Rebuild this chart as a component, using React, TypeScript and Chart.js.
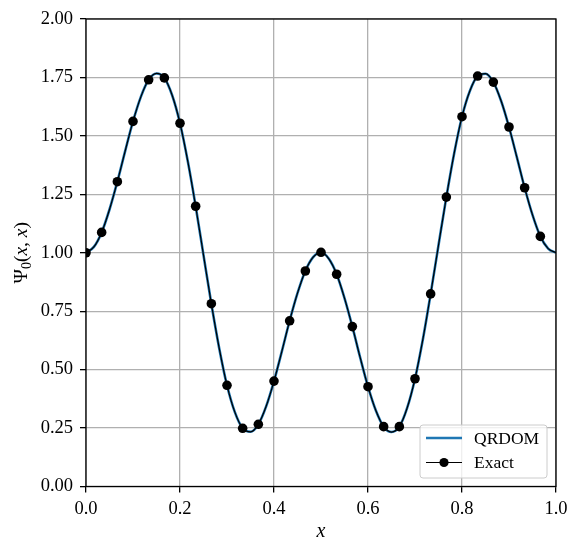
import { useEffect, useRef } from 'react';
import { Chart, registerables } from 'chart.js';

Chart.register(...registerables);

const xGrid = [
  0, 0.0167, 0.0333, 0.05, 0.0667, 0.0833, 0.1, 0.1167, 0.1333, 0.15,
  0.1667, 0.1833, 0.2, 0.2167, 0.2333, 0.25, 0.2667, 0.2833, 0.3, 0.3167,
  0.3333, 0.35, 0.3667, 0.3833, 0.4, 0.4167, 0.4333, 0.45, 0.4667, 0.4833,
  0.5, 0.5167, 0.5333, 0.55, 0.5667, 0.5833, 0.6, 0.6167, 0.6333, 0.65,
  0.6667, 0.6833, 0.7, 0.7167, 0.7333, 0.75, 0.7667, 0.7833, 0.8, 0.8167,
  0.8333, 0.85, 0.8667, 0.8833, 0.9, 0.9167, 0.9333, 0.95, 0.9667, 0.9833,
  1.0,
];

const qrdomValues = [
  1.0, 1.025, 1.087, 1.185, 1.304, 1.435, 1.562, 1.667, 1.74, 1.767,
  1.748, 1.674, 1.554, 1.39, 1.199, 0.99, 0.782, 0.593, 0.433, 0.318,
  0.249, 0.234, 0.266, 0.343, 0.451, 0.578, 0.709, 0.827, 0.922, 0.981,
  1.002, 0.974, 0.908, 0.806, 0.684, 0.552, 0.427, 0.325, 0.256, 0.233,
  0.256, 0.336, 0.461, 0.629, 0.824, 1.032, 1.238, 1.425, 1.582, 1.692,
  1.756, 1.766, 1.73, 1.649, 1.538, 1.409, 1.278, 1.162, 1.07, 1.018,
  1.0,
];

const exactValues = [
  1.0, 1.025, 1.087, 1.185, 1.304, 1.435, 1.562, 1.667, 1.74, 1.767,
  1.748, 1.674, 1.554, 1.39, 1.199, 0.99, 0.782, 0.593, 0.433, 0.318,
  0.249, 0.234, 0.266, 0.343, 0.451, 0.578, 0.709, 0.827, 0.922, 0.981,
  1.002, 0.974, 0.908, 0.806, 0.684, 0.552, 0.427, 0.325, 0.256, 0.233,
  0.256, 0.336, 0.461, 0.629, 0.824, 1.032, 1.238, 1.425, 1.582, 1.692,
  1.756, 1.766, 1.73, 1.649, 1.538, 1.409, 1.278, 1.162, 1.07, 1.018,
  1.0,
];

const xTicks = [0, 0.2, 0.4, 0.6, 0.8, 1.0];
const yTicks = [0, 0.25, 0.5, 0.75, 1.0, 1.25, 1.5, 1.75, 2.0];

const seriesLabels = ['QRDOM', 'Exact'];
const xTitle = 'x';

const FONT = "'Liberation Serif', 'Times New Roman', serif";
const BLUE = '#1f77b4';

const frameAndLegend = {
  id: 'frameAndLegend',
  afterDatasetsDraw(chart: any) {
    const { ctx, chartArea } = chart;
    const { left, right, top, bottom } = chartArea;
    ctx.save();
    // spines
    ctx.strokeStyle = '#000';
    ctx.lineWidth = 1.3;
    ctx.strokeRect(left, top, right - left, bottom - top);

    // legend
    const w = 127;
    const h = 53;
    const bx = right - 9 - w;
    const by = bottom - 8.5 - h;
    const r = 3;
    ctx.beginPath();
    ctx.moveTo(bx + r, by);
    ctx.lineTo(bx + w - r, by);
    ctx.arcTo(bx + w, by, bx + w, by + r, r);
    ctx.lineTo(bx + w, by + h - r);
    ctx.arcTo(bx + w, by + h, bx + w - r, by + h, r);
    ctx.lineTo(bx + r, by + h);
    ctx.arcTo(bx, by + h, bx, by + h - r, r);
    ctx.lineTo(bx, by + r);
    ctx.arcTo(bx, by, bx + r, by, r);
    ctx.closePath();
    ctx.fillStyle = 'rgba(255,255,255,0.8)';
    ctx.fill();
    ctx.strokeStyle = '#cccccc';
    ctx.lineWidth = 1;
    ctx.stroke();

    const ds = chart.data.datasets;
    const y1 = by + 13;
    const y2 = by + 37.5;
    ctx.lineCap = 'butt';
    ctx.strokeStyle = BLUE;
    ctx.lineWidth = 2.6;
    ctx.beginPath();
    ctx.moveTo(bx + 6, y1);
    ctx.lineTo(bx + 42, y1);
    ctx.stroke();

    ctx.strokeStyle = '#000';
    ctx.lineWidth = 1.2;
    ctx.beginPath();
    ctx.moveTo(bx + 6, y2);
    ctx.lineTo(bx + 42, y2);
    ctx.stroke();
    ctx.fillStyle = '#000';
    ctx.beginPath();
    ctx.arc(bx + 24, y2, 4.6, 0, Math.PI * 2);
    ctx.fill();

    ctx.fillStyle = '#000';
    ctx.font = `17.5px ${FONT}`;
    ctx.textAlign = 'left';
    ctx.textBaseline = 'middle';
    ctx.fillText(ds[0].label, bx + 54, y1 + 1);
    ctx.fillText(ds[1].label, bx + 54, y2 + 1);
    ctx.restore();
  },
  afterDraw(chart: any) {
    // y axis title: Ψ_0(x, x)
    const { ctx, chartArea } = chart;
    const cy = (chartArea.top + chartArea.bottom) / 2;
    const pieces: { t: string; f: string; dy: number }[] = [
      { t: 'Ψ', f: `19.5px ${FONT}`, dy: 0 },
      { t: '0', f: `14px ${FONT}`, dy: 4 },
      { t: '(', f: `19.5px ${FONT}`, dy: 0 },
      { t: 'x', f: `italic 19.5px ${FONT}`, dy: 0 },
      { t: ', ', f: `19.5px ${FONT}`, dy: 0 },
      { t: 'x', f: `italic 19.5px ${FONT}`, dy: 0 },
      { t: ')', f: `19.5px ${FONT}`, dy: 0 },
    ];
    ctx.save();
    let total = 0;
    const widths = pieces.map((p) => {
      ctx.font = p.f;
      const m = ctx.measureText(p.t).width;
      total += m;
      return m;
    });
    ctx.translate(27, cy);
    ctx.rotate(-Math.PI / 2);
    ctx.fillStyle = '#000';
    ctx.textBaseline = 'alphabetic';
    ctx.textAlign = 'left';
    let x = -total / 2;
    pieces.forEach((p, i) => {
      ctx.font = p.f;
      ctx.fillText(p.t, x, p.dy);
      x += widths[i];
    });
    ctx.restore();
  },
};

export default function App() {
  const ref = useRef<HTMLCanvasElement | null>(null);

  useEffect(() => {
    if (!ref.current) return;
    Chart.defaults.font.family = FONT;
    const chart = new Chart(ref.current, {
      type: 'line',
      data: {
        datasets: [
          {
            label: seriesLabels[0],
            data: xGrid.map((x, i) => ({ x, y: qrdomValues[i] })),
            borderColor: BLUE,
            borderWidth: 2.6,
            pointRadius: 0,
            cubicInterpolationMode: 'monotone',
            order: 2,
          },
          {
            label: seriesLabels[1],
            data: xGrid.map((x, i) => ({ x, y: exactValues[i] })),
            borderColor: '#000',
            borderWidth: 1.2,
            backgroundColor: '#000',
            pointBackgroundColor: '#000',
            pointBorderWidth: 0,
            pointRadius: (c: any) =>
              c.dataIndex % 2 === 0 && c.dataIndex < xGrid.length - 1 ? 4.8 : 0,
            cubicInterpolationMode: 'monotone',
            order: 1,
          },
        ],
      },
      options: {
        animation: false,
        responsive: false,
        events: [],
        layout: { padding: { top: 19, right: 25, left: 0, bottom: 0 } },
        plugins: {
          legend: { display: false },
          tooltip: { enabled: false },
          title: { display: false },
        },
        scales: {
          x: {
            type: 'linear',
            min: 0,
            max: 1,
            afterFit: (s: any) => {
              s.height = 66.5;
            },
            afterBuildTicks: (s: any) => {
              s.ticks = xTicks.map((v) => ({ value: v }));
            },
            ticks: {
              color: '#000',
              font: { size: 18.5, family: FONT },
              padding: 6,
              maxRotation: 0,
              autoSkip: false,
              callback: (v: any) => Number(v).toFixed(1),
            },
            grid: {
              color: '#b0b0b0',
              lineWidth: 1.3,
              tickColor: '#000',
              tickLength: 6,
              tickWidth: 1.3,
            },
            border: { display: false },
            title: {
              display: true,
              text: xTitle,
              color: '#000',
              font: { size: 20, style: 'italic', family: FONT },
              padding: { top: 0, bottom: 9 },
            },
          },
          y: {
            type: 'linear',
            min: 0,
            max: 2,
            afterFit: (s: any) => {
              s.width = 86;
            },
            afterBuildTicks: (s: any) => {
              s.ticks = yTicks.map((v) => ({ value: v }));
            },
            ticks: {
              color: '#000',
              font: { size: 18.5, family: FONT },
              padding: 7,
              autoSkip: false,
              callback: (v: any) => Number(v).toFixed(2),
            },
            grid: {
              color: '#b0b0b0',
              lineWidth: 1.3,
              tickColor: '#000',
              tickLength: 6,
              tickWidth: 1.3,
            },
            border: { display: false },
          },
        },
      },
      plugins: [frameAndLegend],
    } as any);
    return () => chart.destroy();
  }, []);

  return (
    <div style={{ position: 'absolute', left: 0, top: 0, width: 581, height: 553 }}>
      <canvas ref={ref} width={581} height={553} />
    </div>
  );
}
